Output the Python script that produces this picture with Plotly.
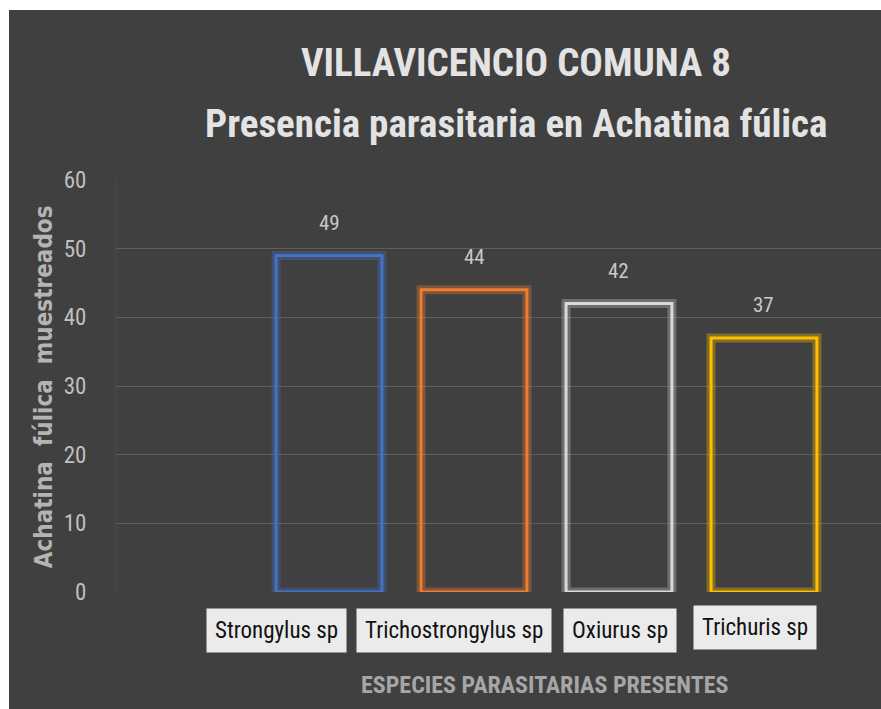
import plotly.graph_objects as go

# datos del gráfico
especies = ["Strongylus sp", "Trichostrongylus sp", "Oxiurus sp", "Trichuris sp"]
muestras = [49, 44, 42, 37]
colores = ["#4472C4", "#ED7D31", "#D9D9D9", "#FFC000"]
glow = ["rgba(68,114,196,0.35)", "rgba(237,125,49,0.35)", "rgba(217,217,217,0.3)", "rgba(255,192,0,0.35)"]
y_ticks = [0, 10, 20, 30, 40, 50, 60]

# desplazamiento de las cajas de etiqueta (cuadros de texto puestos a mano)
label_shift = [-53, -20, 1, -9]
label_dy = [-16, -16, -16, -13]

FONT = "Liberation Sans Narrow, Roboto Condensed, Arial Narrow, sans-serif"
BG = "#404040"

fig = go.Figure()

# halo suave
fig.add_trace(go.Bar(
    x=especies, y=muestras, width=0.73,
    marker=dict(color="rgba(0,0,0,0)", line=dict(color=glow, width=9)),
    hoverinfo="skip", showlegend=False,
))
# contorno
fig.add_trace(go.Bar(
    x=especies, y=muestras, width=0.73,
    marker=dict(color="rgba(0,0,0,0)", line=dict(color=colores, width=3)),
    showlegend=False,
))

for esp, val in zip(especies, muestras):
    fig.add_annotation(x=esp, y=val, text=str(val), showarrow=False,
                       yshift=33, font=dict(family=FONT, size=21, color="#C8C8C8"))

for esp, dx, dy in zip(especies, label_shift, label_dy):
    fig.add_annotation(x=esp, xref="x", y=0, yref="paper", yanchor="top",
                       text=esp, showarrow=False, xshift=dx, yshift=dy,
                       bgcolor="#EBEBEB", borderpad=8,
                       font=dict(family=FONT, size=23, color="#111111"))

fig.add_annotation(x=0.5595, xref="paper", y=-0.2257, yref="paper",
                   xanchor="center", yanchor="middle",
                   text="<b>ESPECIES PARASITARIAS PRESENTES</b>", showarrow=False,
                   font=dict(family=FONT, size=24, color="#A6A6A6"))

# título en dos líneas
fig.add_annotation(x=0.523, xref="paper", y=1.285, yref="paper",
                   xanchor="center", yanchor="middle",
                   text="<b>VILLAVICENCIO COMUNA 8</b>", showarrow=False,
                   font=dict(family=FONT, size=39, color="#E3E3E3"))
fig.add_annotation(x=0.523, xref="paper", y=1.135, yref="paper",
                   xanchor="center", yanchor="middle",
                   text="<b>Presencia parasitaria en Achatina fúlica</b>", showarrow=False,
                   font=dict(family=FONT, size=39, color="#E3E3E3"))

# título del eje y
fig.add_annotation(x=-0.0941, xref="paper", y=0.497, yref="paper", textangle=-90,
                   xanchor="center", yanchor="middle",
                   text="<b>Achatina  fúlica  muestreados</b>", showarrow=False,
                   font=dict(family="DejaVu Sans Condensed, DejaVu Sans, sans-serif",
                             size=24, color="#B4B4B4"))

# la figura pasa del borde de la ventana: el área de trazado llega al borde derecho
fig.update_layout(
    width=890, height=712,
    margin=dict(l=107, r=18, t=170, b=130),
    paper_bgcolor=BG, plot_bgcolor=BG,
    barmode="overlay",
    font=dict(family=FONT, color="#BFBFBF"),
)
fig.update_xaxes(range=[-1.469, 3.807], showticklabels=False, showgrid=False,
                 zeroline=False, showline=False)
fig.update_yaxes(range=[0, 60], tickvals=y_ticks, showgrid=True, gridcolor="#5E5E5E",
                 gridwidth=1, zeroline=False, showline=True, linecolor="#4A4A4A",
                 tickfont=dict(family=FONT, size=23, color="#BFBFBF"),
                 ticklabelstandoff=24)

# borde blanco de la captura: arriba 10 px, izquierda 9 px
fig.write_html("out.html",
               post_script="document.body.style.margin='10px 0 0 9px';"
                           "document.body.style.overflow='hidden';"
                           "document.documentElement.style.overflow='hidden';")
